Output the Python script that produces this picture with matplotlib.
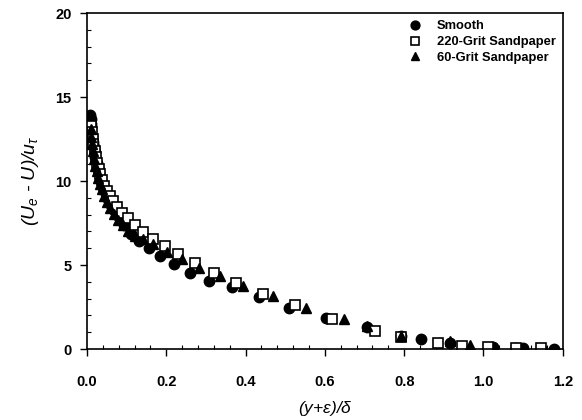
import matplotlib
matplotlib.use("Agg")
import matplotlib.pyplot as plt
from matplotlib.ticker import MultipleLocator, FormatStrFormatter

# smooth wall (filled circles)
smooth_x = [0.008, 0.009, 0.010, 0.011, 0.013, 0.015, 0.017, 0.019, 0.021, 0.024,
            0.027, 0.030, 0.034, 0.038, 0.043, 0.048, 0.054, 0.061, 0.068, 0.076,
            0.085, 0.094, 0.111, 0.132, 0.157, 0.184, 0.220, 0.260, 0.308, 0.366,
            0.433, 0.510, 0.604, 0.706, 0.792, 0.842, 0.915, 1.023, 1.083, 1.100,
            1.146, 1.177]
smooth_y = [13.9, 13.7, 13.4, 13.2, 12.7, 12.3, 12.0, 11.7, 11.4, 11.1,
            10.75, 10.45, 10.1, 9.8, 9.5, 9.2, 8.9, 8.55, 8.25, 7.95,
            7.65, 7.38, 6.85, 6.45, 5.99, 5.56, 5.04, 4.54, 4.07, 3.67,
            3.10, 2.46, 1.83, 1.31, 0.75, 0.60, 0.38, 0.10, 0.07, 0.07,
            0.03, 0.02]

# 220-grit sandpaper (open squares)
grit220_x = [0.010, 0.012, 0.014, 0.016, 0.019, 0.022, 0.025, 0.029, 0.033, 0.038,
             0.044, 0.050, 0.057, 0.065, 0.075, 0.087, 0.104, 0.121, 0.140, 0.166,
             0.196, 0.230, 0.272, 0.321, 0.377, 0.444, 0.524, 0.619, 0.726, 0.793,
             0.884, 0.946, 1.012, 1.081, 1.144]
grit220_y = [13.3, 12.9, 12.5, 12.2, 11.8, 11.4, 11.1, 10.7, 10.4, 10.05,
             9.7, 9.4, 9.1, 8.8, 8.45, 8.08, 7.78, 7.38, 6.95, 6.55,
             6.15, 5.64, 5.10, 4.51, 3.95, 3.26, 2.62, 1.77, 1.09, 0.70,
             0.34, 0.18, 0.10, 0.08, 0.04]

# 60-grit sandpaper (filled triangles)
grit60_x = [0.009, 0.011, 0.013, 0.015, 0.018, 0.021, 0.024, 0.028, 0.032, 0.037,
            0.043, 0.050, 0.058, 0.067, 0.078, 0.090, 0.104, 0.120, 0.140, 0.167,
            0.202, 0.239, 0.283, 0.335, 0.394, 0.468, 0.552, 0.648, 0.707, 0.793,
            0.915, 0.966]
grit60_y = [13.1, 12.6, 12.2, 11.8, 11.3, 10.9, 10.6, 10.2, 9.85, 9.5,
            9.1, 8.75, 8.4, 8.05, 7.7, 7.4, 7.05, 6.75, 6.55, 6.25,
            5.79, 5.34, 4.80, 4.35, 3.75, 3.15, 2.42, 1.79, 1.37, 0.77,
            0.45, 0.24]

plt.rcParams['font.family'] = 'Liberation Sans'
plt.rcParams['mathtext.fontset'] = 'custom'
plt.rcParams['mathtext.rm'] = 'Liberation Sans'
plt.rcParams['mathtext.it'] = 'Liberation Sans:italic'

fig = plt.figure(figsize=(5.82, 4.2), dpi=100)
ax = fig.add_axes([0.1495, 0.169, 0.8175, 0.8])

ax.plot(smooth_x, smooth_y, 'o', color='black', markersize=7.5, label='Smooth')
ax.plot(grit220_x, grit220_y, 's', mfc='white', mec='black', mew=1.2, markersize=6.5,
        label='220-Grit Sandpaper')
ax.plot(grit60_x, grit60_y, '^', color='black', markersize=7.5, label='60-Grit Sandpaper')

ax.set_xlim(0, 1.2)
ax.set_ylim(0, 20)
ax.xaxis.set_major_locator(MultipleLocator(0.2))
ax.xaxis.set_minor_locator(MultipleLocator(0.04))
ax.xaxis.set_major_formatter(FormatStrFormatter('%.1f'))
ax.yaxis.set_major_locator(MultipleLocator(5))
ax.yaxis.set_minor_locator(MultipleLocator(1))
ax.tick_params(which='major', direction='out', length=5, width=1, labelsize=10.5)
ax.tick_params(which='minor', direction='in', length=3, width=0.8)
ax.tick_params(axis='x', which='major', pad=14)
ax.tick_params(axis='y', which='major', pad=6)
for lab in ax.get_xticklabels() + ax.get_yticklabels():
    lab.set_fontweight('bold')
for s in ax.spines.values():
    s.set_linewidth(1.2)

ax.set_xlabel(r'($y$+$\varepsilon$)/$\delta$', fontsize=12.5, style='italic', labelpad=7)
ax.set_ylabel(r'($U_e$ - $U$)/$u_\tau$', fontsize=14, style='italic', labelpad=10)

leg = ax.legend(loc='upper right', frameon=False, fontsize=9.3, handletextpad=1.2,
                borderaxespad=0.05, labelspacing=0.3, handlelength=1.0,
                markerscale=0.85, borderpad=0.5)
for t in leg.get_texts():
    t.set_fontweight('bold')

fig.savefig('out.png', dpi=100)
